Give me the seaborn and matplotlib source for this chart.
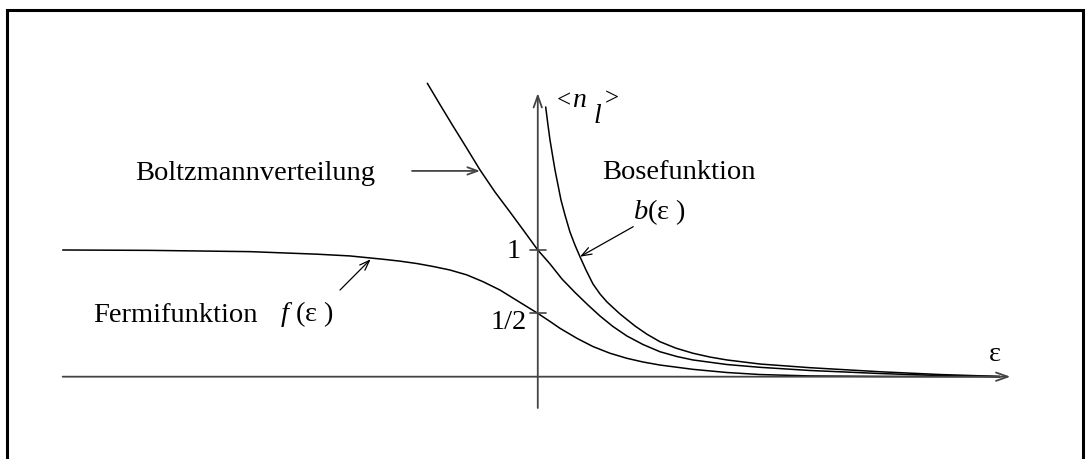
import matplotlib
matplotlib.use("Agg")
import matplotlib.pyplot as plt
from matplotlib.patches import Rectangle
import pandas as pd
import seaborn as sns

# energy in units of kT, mean occupation number <n_l>
fermi_eps = [-7.500, -6.124, -4.546, -3.490, -2.965, -2.444, -2.176, -1.907, -1.654,
             -1.386, -1.118, -0.865, -0.597, -0.328, 0.0, 0.193, 0.350, 0.618, 0.871,
             1.140, 1.408, 1.661, 1.929, 2.450, 2.987, 3.508, 4.297, 5.402, 7.296]
fermi_n = [1.000, 0.997, 0.987, 0.967, 0.953, 0.927, 0.912, 0.893, 0.870,
           0.842, 0.803, 0.750, 0.684, 0.601, 0.500, 0.436, 0.382, 0.303, 0.238,
           0.185, 0.145, 0.116, 0.092, 0.058, 0.033, 0.017, 0.006, 0.002, 0.0]

boltz_eps = [-1.744, -1.544, -1.339, -1.133, -0.912, -0.676, -0.439, -0.218, 0.0,
             0.193, 0.382, 0.587, 0.792, 0.982, 1.187, 1.408, 1.661, 1.929, 2.198,
             2.450, 2.987, 3.508, 4.297, 5.402, 6.349, 7.296]
boltz_n = [2.316, 2.148, 1.979, 1.813, 1.632, 1.458, 1.300, 1.150, 1.000,
           0.890, 0.771, 0.665, 0.566, 0.479, 0.396, 0.321, 0.254, 0.197, 0.159,
           0.132, 0.096, 0.074, 0.049, 0.025, 0.009, 0.0]

bose_eps = [0.125, 0.161, 0.193, 0.232, 0.272, 0.319, 0.366, 0.429, 0.508, 0.587,
            0.666, 0.761, 0.871, 0.982, 1.092, 1.298, 1.535, 1.724, 1.929, 2.182,
            2.450, 2.718, 2.987, 3.508, 4.297, 5.402, 6.349, 7.296]
bose_n = [2.129, 1.986, 1.868, 1.750, 1.631, 1.513, 1.395, 1.277, 1.142, 1.039,
          0.947, 0.842, 0.732, 0.653, 0.590, 0.495, 0.400, 0.335, 0.276, 0.225,
          0.185, 0.155, 0.132, 0.100, 0.071, 0.039, 0.017, 0.002]

ytick_vals = [1.0, 0.5]
ytick_labels = ["1", "1/2"]

frames = []
for name, e, n in [("Fermi", fermi_eps, fermi_n),
                   ("Boltzmann", boltz_eps, boltz_n),
                   ("Bose", bose_eps, bose_n)]:
    frames.append(pd.DataFrame({"eps": e, "n": n, "curve": name}))
df = pd.concat(frames, ignore_index=True)

sns.set_theme(style="white")
plt.rcParams["font.family"] = ["Liberation Serif", "DejaVu Serif"]
plt.rcParams["text.color"] = "black"
plt.rcParams["mathtext.fontset"] = "custom"
plt.rcParams["mathtext.it"] = "Liberation Serif:italic"
plt.rcParams["mathtext.rm"] = "Liberation Serif"

fig = plt.figure(figsize=(10.9, 4.59), dpi=100)
ax = fig.add_axes([0, 0, 1, 1])
ax.set_xlim(-8.489, 8.717)
ax.set_ylim(-0.6496, 2.973)
ax.axis("off")

sns.lineplot(data=df, x="eps", y="n", hue="curve", units="curve", estimator=None,
             sort=False, palette={"Fermi": "black", "Boltzmann": "black", "Bose": "black"},
             linewidth=1.1, legend=False, ax=ax)

# coordinate axes with open arrow heads
axis_kw = dict(arrowstyle="->,head_length=0.7,head_width=0.25", color="#444444", lw=1.3,
               shrinkA=0, shrinkB=0)
ax.annotate("", xy=(7.46, 0.0), xytext=(-7.50, 0.0), arrowprops=axis_kw)
ax.annotate("", xy=(0.0, 2.238), xytext=(0.0, -0.247), arrowprops=axis_kw)

for v in ytick_vals:
    ax.plot([-0.123, 0.13], [v, v], color="#444444", lw=1.2)
ax.text(-0.27, 0.937, ytick_labels[0], ha="right", va="baseline", fontsize=20.5)
ax.text(-0.17, 0.376, ytick_labels[1], ha="right", va="baseline", fontsize=20.5)

# pointers from the labels to the curves
ptr_kw = dict(arrowstyle="->,head_length=0.6,head_width=0.22", color="black", lw=0.9,
              shrinkA=0, shrinkB=0)
ax.annotate("", xy=(-0.912, 1.624), xytext=(-1.985, 1.624),
            arrowprops=dict(ptr_kw, color="#444444", lw=1.3))
ax.annotate("", xy=(0.666, 0.947), xytext=(1.507, 1.184), arrowprops=ptr_kw)
ax.annotate("", xy=(-2.638, 0.927), xytext=(-3.122, 0.684), arrowprops=ptr_kw)

ax.text(-6.356, 1.551, "Boltzmannverteilung", fontsize=20.5, va="baseline")
ax.text(1.009, 1.558, "Bosefunktion", fontsize=20.5, va="baseline")
ax.text(1.503, 1.242, r"$b$(ε )", fontsize=20.5, va="baseline")
ax.text(-7.021, 0.434, "Fermifunktion", fontsize=20.5, va="baseline")
ax.text(-4.07, 0.44, r"$f$ (ε )", fontsize=20.5, va="baseline")
ax.text(7.217, 0.124, "ε", fontsize=20.5, ha="center", va="baseline")

# axis title <n_l>
ax.text(0.298, 2.128, "<", fontsize=18, va="baseline")
ax.text(0.535, 2.128, r"$n$", fontsize=20, va="baseline")
ax.text(0.871, 2.0, r"$l$", fontsize=20, va="baseline")
ax.text(1.061, 2.144, ">", fontsize=18, va="baseline")

fig.add_artist(Rectangle((7 / 1090, -0.05), (1083 - 7) / 1090, 1.05 - 10 / 459,
                         transform=fig.transFigure, fill=False, lw=2.2,
                         edgecolor="black"))

fig.savefig("out.png", dpi=100)
